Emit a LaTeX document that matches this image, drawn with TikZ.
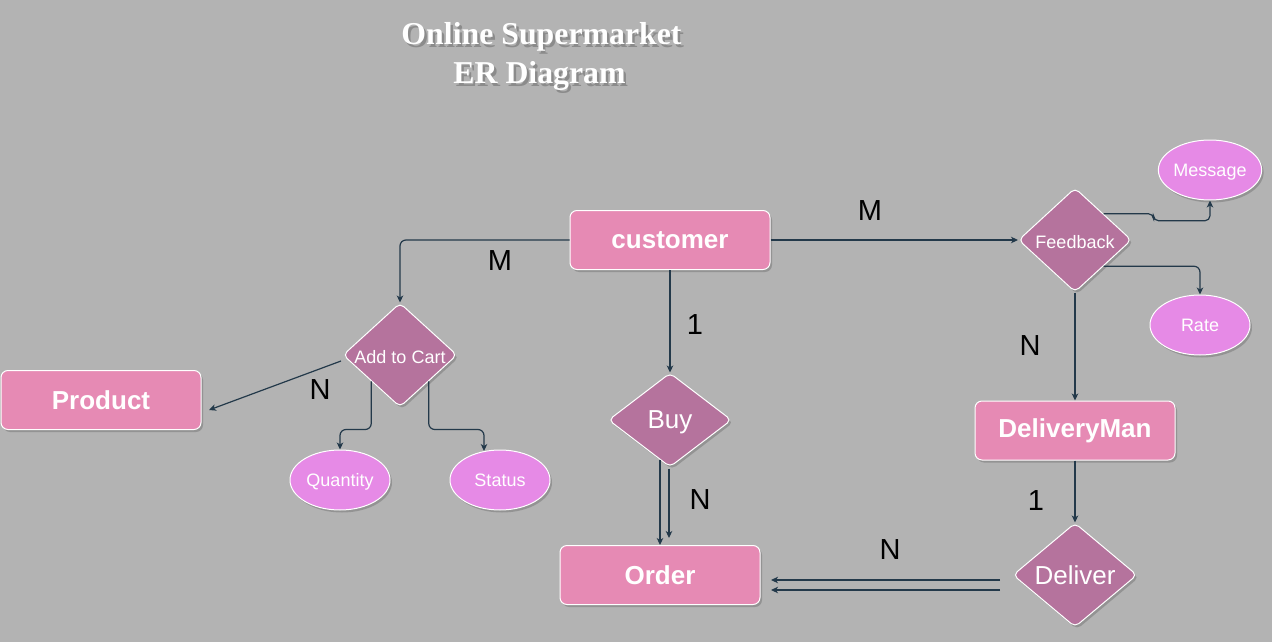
\documentclass[tikz,border=0pt]{standalone}
\usepackage{fontspec}
\setmainfont{Liberation Sans}
\newfontfamily\titlefont{Liberation Serif}
\usetikzlibrary{shapes.geometric,arrows.meta,shadows,calc}
\definecolor{bg}{HTML}{B3B3B3}
\definecolor{entfill}{HTML}{E68AB4}
\definecolor{relfill}{HTML}{B5739D}
\definecolor{attfill}{HTML}{E68AE6}
\definecolor{edgecol}{HTML}{23394A}
\newcommand\lowerby[2]{\raisebox{-#1}[\height][\depth]{#2}}
\begin{document}
\begin{tikzpicture}[x=1pt,y=-1pt,
 shad/.style={drop shadow={shadow xshift=2pt,shadow yshift=-2.5pt,opacity=0.3,fill=black!70}},
 entity/.style={rectangle,rounded corners=7pt,draw=white,line width=1pt,fill=entfill,minimum width=200pt,minimum height=59pt,inner sep=0pt,text=white,font=\fontsize{26}{30}\selectfont\bfseries,shad},
 relation/.style={diamond,rounded corners=5pt,draw=white,line width=1pt,fill=relfill,inner sep=0pt,text=white,shad},
 attr/.style={ellipse,draw=white,line width=1pt,fill=attfill,minimum width=100pt,minimum height=60pt,inner sep=0pt,text=white,font=\fontsize{18}{20}\selectfont,shad},
 edge/.style={draw=edgecol,line width=1.2pt,-{Stealth[length=7pt,width=6.5pt,inset=2pt]}},
 card/.style={font=\fontsize{29}{32}\selectfont,text=black,inner sep=0pt},
 ttl/.style={font=\titlefont\fontsize{31.8}{34}\selectfont\bfseries,inner sep=0pt,anchor=base}
]
\useasboundingbox[fill=bg] (0,0) rectangle (1272,642);

% title
\node[ttl,text=black,opacity=0.22] (t1s) at (544,47.5) {Online Supermarket};
\node[ttl,text=black,opacity=0.22] (t2s) at (542,86.5) {ER Diagram};
\node[ttl,text=white] (t1) at (541.5,45) {Online Supermarket};
\node[ttl,text=white] (t2) at (539.5,84) {ER Diagram};

% entities
\node[entity] (cust) at (670,240) {customer};
\node[entity] (prod) at (101,400) {Product};
\node[entity] (order) at (660,575) {Order};
\node[entity] (dm) at (1075,430.5) {DeliveryMan};

% relationships
\node[relation,minimum width=114pt,minimum height=104pt,font=\fontsize{18}{20}\selectfont] (add) at (400,355) {\makebox[0pt]{\lowerby{2pt}{Add to Cart}}};
\node[relation,minimum width=123pt,minimum height=94pt,font=\fontsize{26}{30}\selectfont] (buy) at (670,420) {\makebox[0pt]{\lowerby{2.5pt}{Buy}}};
\node[relation,minimum width=113pt,minimum height=104pt,font=\fontsize{18}{20}\selectfont] (fb) at (1075,240) {\makebox[0pt]{\lowerby{2.5pt}{Feedback}}};
\node[relation,minimum width=124pt,minimum height=104pt,font=\fontsize{26}{30}\selectfont] (dlv) at (1075,575) {\makebox[0pt]{Deliver}};

% attributes
\node[attr] (msg) at (1210,170) {\lowerby{2pt}{Message}};
\node[attr] (rate) at (1200,325) {Rate};
\node[attr] (qty) at (340,480) {\lowerby{2pt}{Quantity}};
\node[attr] (stat) at (500,480) {Status};

% free ends
\coordinate (prodend) at (209,410);
\coordinate (addstart) at (341,361);
\coordinate (dlvA) at (1000,580);
\coordinate (dlvB) at (1000,590);
\coordinate (ordA) at (771,580);
\coordinate (ordB) at (771,590);

% connectors
\draw[edge,rounded corners=6pt] (cust.west) -| (add.north);
\draw[edge] (cust.south) -- (buy.north);
\draw[edge] (cust.east) -- (fb.west);
\draw[edge] (addstart) -- (prodend);
\draw[edge,rounded corners=6pt] (add.south west) |- ($(qty.north)+(0,-20)$) -- (qty.north);
\draw[edge,rounded corners=6pt] (add.south east) |- ($(stat.north)+(-16,-20)$) -- ($(stat.north)+(-16,1.5)$);
\draw[edge] ($(buy.south)+(-10,-8)$) -- (order.north);
\draw[edge] ($(buy.south)+(-1,1)$) -- ($(order.north)+(9,-7)$);
\draw[edge,rounded corners=5pt] (fb.north east) -- ++(50,0) -- ++(0,7) -| (msg.south);
\draw[edge,rounded corners=6pt] (fb.south east) -| (rate.north);
\draw[edge] (fb.south) -- (dm.north);
\draw[edge] (dm.south) -- (dlv.north);
\draw[edge] (dlvA) -- (ordA);
\draw[edge] (dlvB) -- (ordB);

% cardinalities
\node[card] (c1) at (500,261) {M};
\node[card] (c2) at (695,325) {1};
\node[card] (c3) at (870,211) {M};
\node[card] (c4) at (320,390) {N};
\node[card] (c5) at (700,500) {N};
\node[card] (c6) at (1030,346) {N};
\node[card] (c7) at (1036,501) {1};
\node[card] (c8) at (890,550) {N};
\end{tikzpicture}
\end{document}
